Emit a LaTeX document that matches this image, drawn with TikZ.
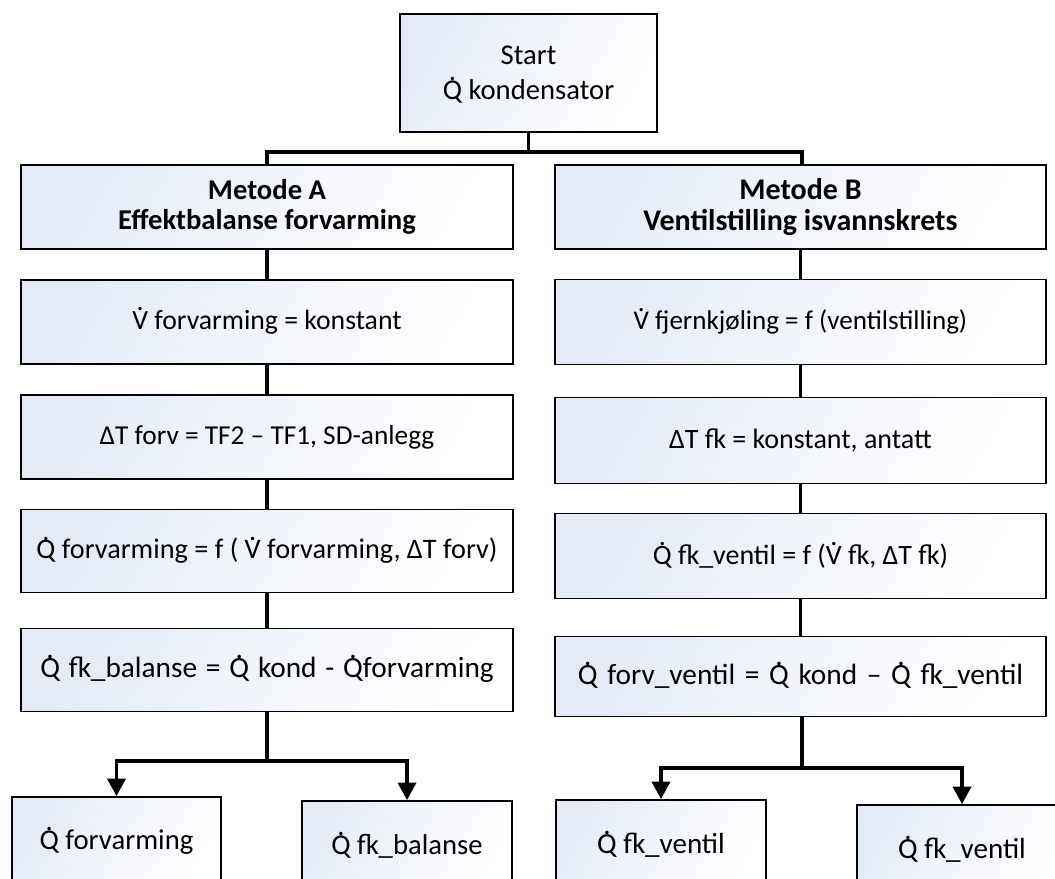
\documentclass[tikz,border=0pt]{standalone}
\usepackage{fontspec}
\setmainfont{Carlito}
\usetikzlibrary{arrows.meta}
\definecolor{boxtint}{RGB}{228,235,247}
% dot-above accent built from a raised period (flow rates and heat rates)
\newcommand\qdot[1]{\leavevmode\ooalign{#1\cr\hidewidth\raisebox{0.66em}{.}\hidewidth\cr}}
\newcommand\fs[1]{\fontsize{#1}{1.2\dimexpr#1pt\relax}\selectfont}
\newcommand\widespace[1]{\spaceskip=#1em\relax}
\tikzset{
  box/.style={draw=black, line width=1.4pt, top color=boxtint, bottom color=white,
    shading angle=60, inner sep=0pt, align=center, font=\fs{21}},
  conn/.style={draw=black, line width=2.6pt},
  arr/.style={conn, -{Triangle[width=13.5pt,length=13pt]}},
}
\begin{document}
\begin{tikzpicture}[x=0.75pt,y=-0.75pt]
\useasboundingbox (0,0) rectangle (1055,878);
\clip (0,0) rectangle (1055,878);

% start
\node[box, minimum width=192.75pt, minimum height=88.5pt,
  font=\fontsize{21.5}{26}\selectfont] (start) at (528.5,73)
  {Start\\\qdot{Q} kondensator};

% method A column
\node[box, minimum width=369pt, minimum height=63pt, font=\fontsize{21.5}{23}\selectfont\bfseries]
  (a1) at (267,207) {Metode A\\Effektbalanse forvarming};
\node[box, minimum width=369pt, minimum height=63pt, font=\fs{20.8}] (a2) at (267,322)
  {\qdot{V} forvarming = konstant};
\node[box, minimum width=369pt, minimum height=63pt, font=\fs{20.5}] (a3) at (267,437)
  {ΔT forv = TF2 – TF1, SD-anlegg};
\node[box, minimum width=369pt, minimum height=62.25pt, font=\fs{21.2}] (a4) at (267,551)
  {\qdot{Q} forvarming = f ( \qdot{V} forvarming, ΔT forv)};
\node[box, minimum width=369pt, minimum height=62.25pt, font=\fs{22}\widespace{0.3}] (a5) at (267,670)
  {\qdot{Q} fk\_balanse = \qdot{Q} kond - \qdot{Q}forvarming};

% method B column
\node[box, minimum width=368.25pt, minimum height=63pt, font=\fontsize{22.5}{23}\selectfont\bfseries]
  (b1) at (800.5,207) {Metode B\\Ventilstilling isvannskrets};
\node[box, minimum width=368.25pt, minimum height=63.75pt, font=\fs{20.3}] (b2) at (800.5,322)
  {\qdot{V} fjernkjøling = f (ventilstilling)};
\node[box, minimum width=368.25pt, minimum height=64.5pt, font=\fs{21}] (b3) at (800.5,440.5)
  {ΔT fk = konstant, antatt};
\node[box, minimum width=368.25pt, minimum height=63.75pt, font=\fs{21}] (b4) at (800.5,556)
  {\qdot{Q} fk\_ventil = f (\qdot{V} fk, ΔT fk)};
\node[box, minimum width=368.25pt, minimum height=60pt, font=\fs{22}\widespace{0.33}] (b5) at (800.5,676.5)
  {\qdot{Q} forv\_ventil = \qdot{Q} kond – \qdot{Q} fk\_ventil};

% results
\node[box, minimum width=156.75pt, minimum height=67.5pt, font=\fs{21.5}] (l1) at (116.5,842)
  {\qdot{Q} forvarming};
\node[box, minimum width=157.5pt, minimum height=67.5pt, font=\fs{21.5}] (l2) at (407,846)
  {\qdot{Q} fk\_balanse};
\node[box, minimum width=157.5pt, minimum height=67.5pt, font=\fs{21.8}] (r1) at (661,845)
  {\qdot{Q} fk\_ventil};
\node[box, minimum width=157.5pt, minimum height=67.5pt, font=\fs{21.8}] (r2) at (962,850)
  {\qdot{Q} fk\_ventil};

% top split
\coordinate (top) at (528.5,152);
\draw[conn] (start.south) -- (top);
\draw[conn] (top) -| (a1.north);
\draw[conn] (top) -| (802,164);

% column chains
\draw[conn] (a1) -- (a2);
\draw[conn] (a2) -- (a3);
\draw[conn] (a3) -- (a4);
\draw[conn] (a4) -- (a5);
\draw[conn] (b1) -- (b2);
\draw[conn] (b2) -- (b3);
\draw[conn] (b3) -- (b4);
\draw[conn] (b4) -- (b5);

% bottom splits
\coordinate (ja) at (267,761);
\coordinate (jb) at (802,768);
\draw[conn] (a5.south) -- (ja);
\draw[arr] (ja) -| (l1.north);
\draw[arr] (ja) -| (l2.north);
\draw[conn] (802,716) -- (jb);
\draw[arr] (jb) -| (r1.north);
\draw[arr] (jb) -| (r2.north);
\end{tikzpicture}
\end{document}
